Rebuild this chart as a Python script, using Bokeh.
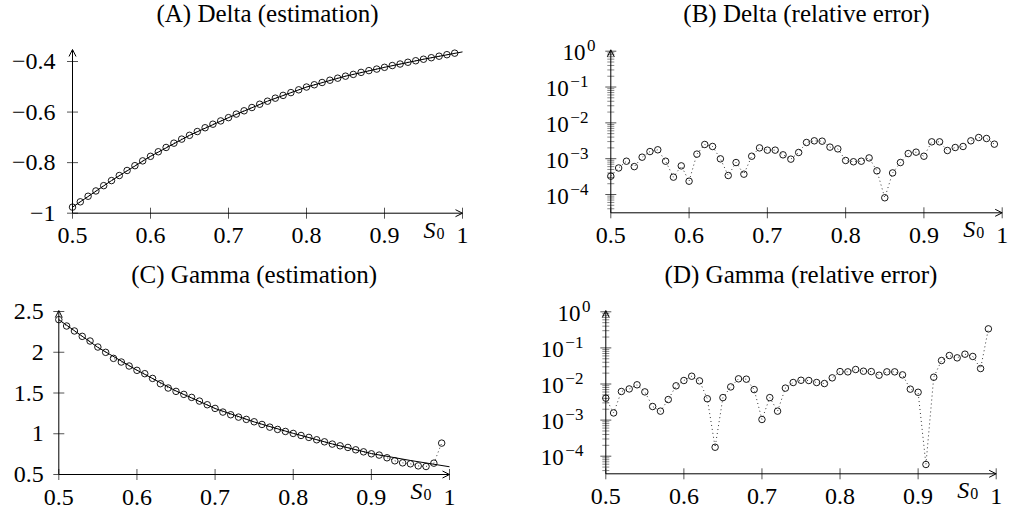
import math
from bokeh.plotting import figure
from bokeh.layouts import gridplot
from bokeh.models import Range1d, Arrow, OpenHead
from bokeh.core.properties import value
from bokeh.embed import file_html
from bokeh.resources import INLINE

# ---------------- data ----------------
s0 = [0.50, 0.51, 0.52, 0.53, 0.54, 0.55, 0.56, 0.57, 0.58, 0.59,
      0.60, 0.61, 0.62, 0.63, 0.64, 0.65, 0.66, 0.67, 0.68, 0.69,
      0.70, 0.71, 0.72, 0.73, 0.74, 0.75, 0.76, 0.77, 0.78, 0.79,
      0.80, 0.81, 0.82, 0.83, 0.84, 0.85, 0.86, 0.87, 0.88, 0.89,
      0.90, 0.91, 0.92, 0.93, 0.94, 0.95, 0.96, 0.97, 0.98, 0.99]
s0_exact = [0.50, 0.55, 0.60, 0.65, 0.70, 0.75, 0.80, 0.85, 0.90, 0.95, 1.00]

delta_est = [-0.976, -0.955, -0.933, -0.912, -0.891, -0.871, -0.851, -0.831, -0.812, -0.793,
             -0.775, -0.757, -0.740, -0.723, -0.707, -0.692, -0.677, -0.662, -0.648, -0.635,
             -0.622, -0.608, -0.595, -0.582, -0.569, -0.557, -0.545, -0.534, -0.523, -0.512,
             -0.501, -0.492, -0.483, -0.474, -0.466, -0.458, -0.451, -0.443, -0.436, -0.430,
             -0.423, -0.416, -0.410, -0.403, -0.397, -0.391, -0.385, -0.379, -0.373, -0.367]
delta_exact = [-0.976, -0.871, -0.775, -0.692, -0.622, -0.557, -0.501, -0.458, -0.423, -0.391, -0.362]

delta_err = [3.25e-4, 5.5e-4, 8.5e-4, 6.0e-4, 1.10e-3, 1.58e-3, 1.77e-3, 8.5e-4, 3.05e-4, 6.3e-4,
             2.35e-4, 1.34e-3, 2.49e-3, 2.19e-3, 9.9e-4, 3.39e-4, 7.8e-4, 3.69e-4, 1.17e-3, 2.0e-3,
             1.73e-3, 1.73e-3, 1.28e-3, 9.7e-4, 1.49e-3, 2.83e-3, 3.15e-3, 3.08e-3, 2.10e-3, 1.88e-3,
             8.9e-4, 8.2e-4, 8.5e-4, 1.05e-3, 4.57e-4, 8.1e-5, 4.0e-4, 7.8e-4, 1.39e-3, 1.52e-3,
             1.17e-3, 2.95e-3, 2.95e-3, 1.69e-3, 2.05e-3, 2.19e-3, 3.15e-3, 3.90e-3, 3.66e-3, 2.54e-3]

gamma_est = [2.400, 2.322, 2.261, 2.195, 2.138, 2.064, 1.999, 1.925, 1.880, 1.831,
             1.778, 1.737, 1.679, 1.614, 1.561, 1.520, 1.483, 1.446, 1.401, 1.356,
             1.311, 1.266, 1.233, 1.204, 1.176, 1.147, 1.114, 1.081, 1.053, 1.028,
             1.004, 0.979, 0.955, 0.926, 0.901, 0.873, 0.852, 0.832, 0.803, 0.778,
             0.754, 0.738, 0.705, 0.668, 0.643, 0.631, 0.606, 0.598, 0.639, 0.885]
gamma_exact = [2.40, 2.06, 1.78, 1.525, 1.31, 1.145, 1.005, 0.875, 0.757, 0.672, 0.595]

gamma_err = [4.05e-3, 1.58e-3, 6.2e-3, 7.3e-3, 9.5e-3, 6.05e-3, 2.38e-3, 1.77e-3, 3.71e-3, 8.9e-3,
             1.25e-2, 1.64e-2, 1.22e-2, 3.9e-3, 1.77e-4, 4.2e-3, 8.3e-3, 1.39e-2, 1.36e-2, 7.0e-3,
             1.04e-3, 4.2e-3, 1.77e-3, 7.7e-3, 1.10e-2, 1.27e-2, 1.25e-2, 1.10e-2, 1.03e-2, 1.48e-2,
             2.21e-2, 2.17e-2, 2.52e-2, 2.26e-2, 2.21e-2, 1.75e-2, 2.17e-2, 2.17e-2, 1.79e-2, 7.2e-3,
             5.9e-3, 5.9e-5, 1.54e-2, 4.47e-2, 6.15e-2, 5.3e-2, 6.7e-2, 5.8e-2, 2.68e-2, 3.37e-1]

x_ticks = [0.5, 0.6, 0.7, 0.8, 0.9, 1.0]
x_tick_labels = ["0.5", "0.6", "0.7", "0.8", "0.9", "1"]
delta_ticks = [-1.0, -0.8, -0.6, -0.4]
delta_tick_labels = ["\u22121", "\u22120.8", "\u22120.6", "\u22120.4"]
gamma_ticks = [0.5, 1.0, 1.5, 2.0, 2.5]
gamma_tick_labels = ["0.5", "1", "1.5", "2", "2.5"]
log_exponents = [0, -1, -2, -3, -4]
log_minor_mantissas = [2, 3, 4, 5, 6, 7, 8, 9]

FONT = value("Liberation Serif")
FS = value("24px")
TICK_COLOR = "#555555"


def lin_map(pa, va, pb, vb, total, flip=False):
    """Range whose values va/vb fall at pixels pa/pb of a frame `total` px long."""
    k = (vb - va) / (pb - pa)
    a = va - pa * k
    b = a + total * k
    return (b, a) if flip else (a, b)


def make_panel(title, width, height, xpix, ypix, yvals, ymin, ytop, log):
    """xpix: pixels of x=0.5 and x=1.0; ypix/yvals: two pixel/value pairs of y (from top)."""
    x0, x1 = lin_map(xpix[0], 0.5, xpix[1], 1.0, width)
    if log:
        lo, hi = lin_map(ypix[0], math.log10(yvals[0]), ypix[1], math.log10(yvals[1]), height, flip=True)
        yr = Range1d(10 ** lo, 10 ** hi)
    else:
        lo, hi = lin_map(ypix[0], yvals[0], ypix[1], yvals[1], height, flip=True)
        yr = Range1d(lo, hi)
    p = figure(width=width, height=height, output_backend="svg", toolbar_location=None,
               x_range=Range1d(x0, x1), y_range=yr,
               y_axis_type="log" if log else "linear",
               x_axis_location=None, y_axis_location=None,
               min_border=0, min_border_left=0, min_border_right=0,
               min_border_top=0, min_border_bottom=0)
    p.outline_line_color = None
    p.xgrid.visible = False
    p.ygrid.visible = False
    # axis lines with open arrow heads
    p.add_layout(Arrow(x_start=0.5, y_start=ymin, x_end=1.0, y_end=ymin, line_width=1,
                       line_color="black", end=OpenHead(size=7, line_width=1, line_color="black")))
    p.add_layout(Arrow(x_start=0.5, y_start=ymin, x_end=0.5, y_end=ytop, line_width=1,
                       line_color="black", end=OpenHead(size=7, line_width=1, line_color="black")))
    # x ticks and labels
    p.scatter(x_ticks, [ymin] * len(x_ticks), marker="dash", size=11, angle=math.pi / 2,
              line_color=TICK_COLOR, line_width=1)
    p.text(x_ticks, [ymin] * len(x_ticks), text=x_tick_labels, text_font=FONT, text_font_size=FS,
           text_align="center", text_baseline="middle", y_offset=22.5, text_color="black")
    # x label S_0
    p.text([1.0], [ymin], text=["S"], text_font=FONT, text_font_size=FS,
           text_font_style="italic", text_align="left", text_baseline="middle",
           x_offset=-39, y_offset=16.5, text_color="black")
    p.text([1.0], [ymin], text=["0"], text_font=FONT, text_font_size=value("16px"),
           text_align="left", text_baseline="middle", x_offset=-26, y_offset=20,
           text_color="black")
    # title
    p.text([0.75], [ytop], text=[title], text_font=FONT, text_font_size=value("25px"),
           text_align="center", text_baseline="middle", y_offset=-36, text_color="black")
    return p


def linear_yaxis(p, ticks, labels, gap):
    p.scatter([0.5] * len(ticks), ticks, marker="dash", size=11, line_color=TICK_COLOR, line_width=1)
    p.text([0.5] * len(ticks), ticks, text=labels, text_font=FONT, text_font_size=FS,
           text_align="right", text_baseline="middle", x_offset=-gap, y_offset=0,
           text_color="black")


def log_yaxis(p, ymin):
    majors = [10.0 ** e for e in log_exponents]
    minors = [m * 10.0 ** e for e in range(-5, 0) for m in log_minor_mantissas]
    minors = [v for v in minors if v >= ymin]
    p.scatter([0.5] * len(minors), minors, marker="dash", size=7, line_color="#8a8a8a", line_width=1)
    p.scatter([0.5] * len(majors), majors, marker="dash", size=11, line_color=TICK_COLOR, line_width=1)
    for e, v in zip(log_exponents, majors):
        ex = "0" if e == 0 else "\u2212" + str(-e)
        right = 25.3 if e == 0 else 42.0
        p.text([0.5], [v], text=["10"], text_font=FONT, text_font_size=value("23px"), text_align="right",
               text_baseline="middle", x_offset=-right, y_offset=1.5, text_color="black")
        p.text([0.5], [v], text=[ex], text_font=FONT, text_font_size=value("17px"),
               text_align="left", text_baseline="middle", x_offset=-right + 1.5, y_offset=-5.5,
               text_color="black")


def est_series(p, x, y):
    p.line(x, y, line_color="black", line_width=0.8, line_dash="1 3")
    p.scatter(x, y, size=6.5, marker="circle", fill_color=None, line_color="black", line_width=0.9)


# (A) Delta estimation  -- frame at page (0,0) 500x250
pA = make_panel("(A) Delta (estimation)", 500, 250, (72, 462), (212.7, 61.0), (-1.0, -0.4),
                -1.0, -0.3525, False)
linear_yaxis(pA, delta_ticks, delta_tick_labels, 17)
pA.line(s0_exact, delta_exact, line_color="black", line_width=1)
est_series(pA, s0, delta_est)

# (B) Delta relative error -- page (500,0) 511x250
yminB = 10 ** -4.511
pB = make_panel("(B) Delta (relative error)", 511, 250, (110.3, 501.7), (194.0, 50.7), (1e-4, 1.0),
                yminB, 10 ** 0.04, True)
log_yaxis(pB, yminB)
est_series(pB, s0, delta_err)

# (C) Gamma estimation -- page (0,250) 500x263
pC = make_panel("(C) Gamma (estimation)", 500, 263, (58.3, 449), (224.0, 61.0), (0.5, 2.5),
                0.5, 2.512, False)
linear_yaxis(pC, gamma_ticks, gamma_tick_labels, 15)
pC.line(s0_exact, gamma_exact, line_color="black", line_width=1)
est_series(pC, s0, gamma_est)

# (D) Gamma relative error -- page (500,250) 511x263
yminD = 10 ** -4.4875
pD = make_panel("(D) Gamma (relative error)", 511, 263, (105.3, 495.7), (205.7, 61.3), (1e-4, 1.0),
                yminD, 10 ** 0.036, True)
log_yaxis(pD, yminD)
est_series(pD, s0, gamma_err)

grid = gridplot([[pA, pB], [pC, pD]], toolbar_location=None)
open("out.html", "w").write(file_html(grid, INLINE))
